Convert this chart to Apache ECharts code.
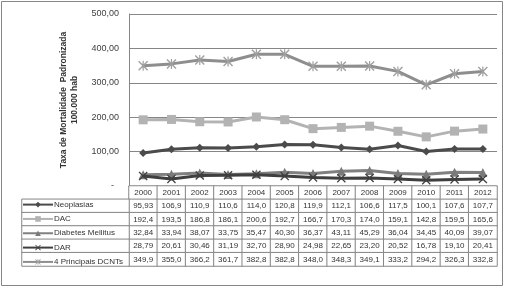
<!DOCTYPE html>
<html>
<head>
<meta charset="utf-8">
<script src="https://cdn.jsdelivr.net/npm/echarts@6/dist/echarts.min.js"></script>
<style>
  html, body { margin: 0; padding: 0; background: #fff; }
  #chart { width: 511px; height: 288px; }
</style>
</head>
<body>
<div id="chart"></div>
<script>
var years = ['2000', '2001', '2002', '2003', '2004', '2005', '2006', '2007', '2008', '2009', '2010', '2011', '2012']
var seriesNames = ['Neoplasias', 'DAC', 'Diabetes Mellitus', 'DAR', '4 Principais DCNTs']
var neoplasias = [95.93, 106.9, 110.9, 110.6, 114.0, 120.8, 119.9, 112.1, 106.6, 117.5, 100.1, 107.6, 107.7]
var dac = [192.4, 193.5, 186.8, 186.1, 200.6, 192.7, 166.7, 170.3, 174.0, 159.1, 142.8, 159.5, 165.6]
var diabetes = [32.84, 33.94, 38.07, 33.75, 35.47, 40.30, 36.37, 43.11, 45.29, 36.04, 34.45, 40.09, 39.07]
var dar = [28.79, 20.61, 30.46, 31.19, 32.70, 28.90, 24.98, 22.65, 23.20, 20.52, 16.78, 19.10, 20.41]
var principais = [349.9, 355.0, 366.2, 361.7, 382.8, 382.8, 348.0, 348.3, 349.1, 333.2, 294.2, 326.3, 332.8]

var allValues = [neoplasias, dac, diabetes, dar, principais]
var colors = ['#4b4b4b', '#b3b3b3', '#808080', '#3f3f3f', '#8e8e8e']
var symbolColors = ['#4b4b4b', '#b3b3b3', '#7a7a7a', '#3f3f3f', '#a0a0a0']
var xPath = 'path://M0,1L1,0L5,4L9,0L10,1L6,5L10,9L9,10L5,6L1,10L0,9L4,5Z'
var starPath = 'path://M0,1L1,0L5,4L9,0L10,1L6,5L10,9L9,10L5,6L1,10L0,9L4,5Z M4.4,0L5.6,0L5.6,10L4.4,10Z'
var symbols = ['diamond', 'rect', 'triangle', xPath, starPath]
var symbolSizes = [8, 9, 9, 9, 10]

var font = 'Liberation Sans, Arial, sans-serif'
var gridColor = '#868686'

function fmtCell(v) {
  return (v >= 100 ? v.toFixed(1) : v.toFixed(2)).replace('.', ',')
}

// table cells: header row (years) + one row per series
var tableRows = ['h'].concat(seriesNames)
var tableData = []
for (var c = 0; c < years.length; c++) {
  tableData.push([c, 0, 0])
  for (var r = 0; r < allValues.length; r++) {
    tableData.push([c, r + 1, allValues[r][c]])
  }
}
var nameData = seriesNames.map(function(n, i) { return [0, i, 0] })

var lineSeries = seriesNames.map(function(name, i) {
  return {
    name: name,
    type: 'line',
    xAxisIndex: 0,
    yAxisIndex: 0,
    data: allValues[i],
    symbol: symbols[i],
    symbolSize: symbolSizes[i],
    showAllSymbol: true,
    lineStyle: { color: colors[i], width: 3 },
    itemStyle: { color: symbolColors[i] },
    z: 3 + i
  }
})

var chart = echarts.init(document.getElementById('chart'))
chart.setOption({
  animation: false,
  textStyle: { fontFamily: font },
  graphic: [{
    type: 'rect',
    shape: { x: 1.5, y: 1.5, width: 501, height: 284 },
    style: { fill: 'none', stroke: gridColor, lineWidth: 1 },
    z: 0
  }],
  grid: [
    { left: 129, top: 14, width: 368, height: 172 },
    { left: 129, top: 186, width: 368, height: 80 },
    { left: 22, top: 199.3, width: 107, height: 66.7 }
  ],
  legend: {
    orient: 'vertical',
    left: 22,
    top: 200.6,
    itemWidth: 30,
    itemHeight: 7,
    itemGap: 6.33,
    padding: 0,
    data: seriesNames,
    textStyle: { fontSize: 8, color: '#333', fontFamily: font, padding: [0, 0, 0, -4] },
    selectedMode: false
  },
  xAxis: [
    {
      gridIndex: 0,
      type: 'category',
      data: years,
      boundaryGap: true,
      axisLine: { lineStyle: { color: gridColor } },
      axisTick: { show: false },
      axisLabel: { show: false }
    },
    { gridIndex: 1, type: 'category', data: years, show: false },
    { gridIndex: 2, type: 'category', data: [''], show: false }
  ],
  yAxis: [
    {
      gridIndex: 0,
      type: 'value',
      min: 0,
      max: 500,
      interval: 100,
      name: 'Taxa de Mortalidade  Padronizada\n100.000 hab',
      nameLocation: 'middle',
      nameRotate: 90,
      nameGap: 47,
      nameTextStyle: { fontSize: 8.5, fontWeight: 'bold', color: '#333', lineHeight: 11 },
      axisLine: { show: true, lineStyle: { color: gridColor } },
      axisTick: { show: false },
      axisLabel: {
        fontSize: 9,
        color: '#404040',
        margin: 10,
        formatter: function(v) { return v === 0 ? '-  ' : v.toFixed(2).replace('.', ',') }
      },
      splitLine: { lineStyle: { color: gridColor } }
    },
    { gridIndex: 1, type: 'category', data: tableRows, inverse: true, show: false },
    { gridIndex: 2, type: 'category', data: seriesNames, inverse: true, show: false }
  ],
  series: lineSeries.concat([
    {
      type: 'heatmap',
      xAxisIndex: 1,
      yAxisIndex: 1,
      data: tableData,
      itemStyle: { color: '#fff', borderColor: gridColor, borderWidth: 1 },
      emphasis: { disabled: true },
      label: {
        show: true,
        fontSize: 8,
        color: '#333',
        formatter: function(p) {
          var c = p.value[0], r = p.value[1]
          return r === 0 ? years[c] : fmtCell(allValues[r - 1][c])
        }
      },
      z: 1
    },
    {
      type: 'heatmap',
      xAxisIndex: 2,
      yAxisIndex: 2,
      data: nameData,
      itemStyle: { color: '#fff', borderColor: gridColor, borderWidth: 1 },
      emphasis: { disabled: true },
      label: { show: false },
      z: 1
    }
  ])
})
</script>
</body>
</html>
